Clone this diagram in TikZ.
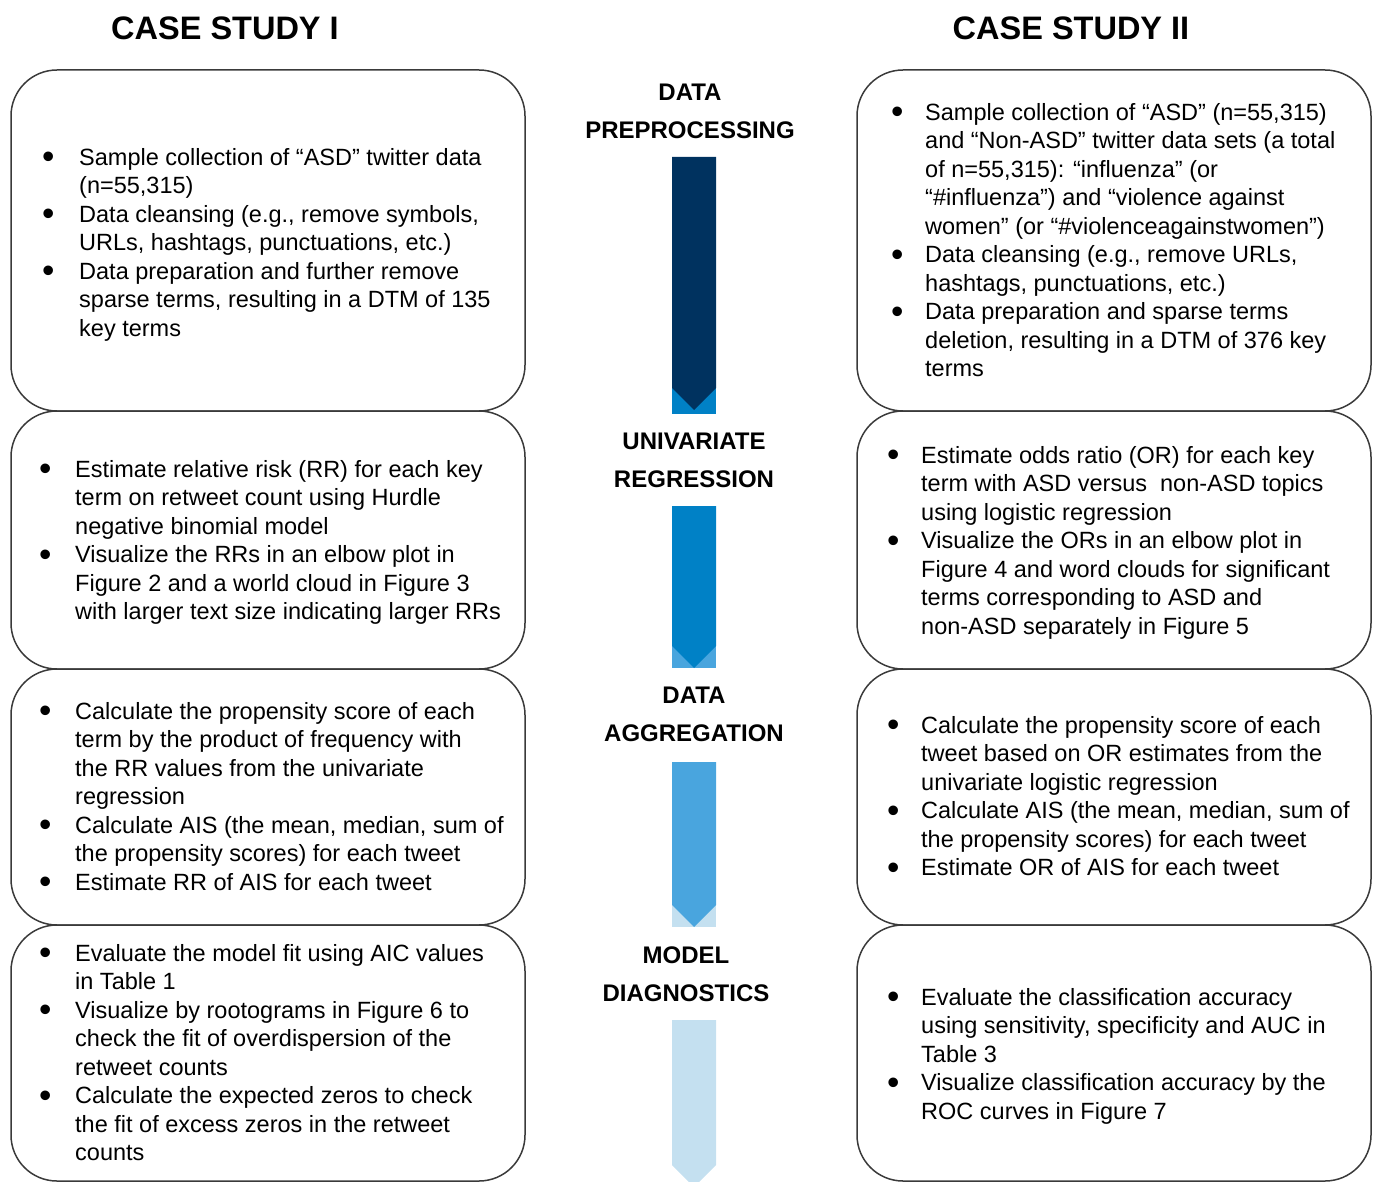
\documentclass[tikz,border=0pt]{standalone}
\usepackage{fontspec}
\setmainfont{Liberation Sans}
\newlength\hangind
\newcommand\Bu{\strut\makebox[\hangind][l]{\hspace{-2pt}\raisebox{-3.6pt}{\scalebox{1.5}{\textbullet}}}}
\newcommand\Co{\hspace*{\hangind}}
\definecolor{cA}{HTML}{00325F}
\definecolor{cB}{HTML}{0081C6}
\definecolor{cC}{HTML}{49A5DE}
\definecolor{cD}{HTML}{C4E0F0}
\definecolor{edge}{HTML}{3A3A3A}
\begin{document}
\begin{tikzpicture}[x=1pt,y=-1pt,
  casebox/.style={draw=edge,line width=1.5pt,rounded corners=46pt},
  body/.style={anchor=north west,inner sep=0pt,align=left,yshift=19.95pt,
    font=\fontsize{23.5}{28.5}\selectfont},
  hang/.code={\setlength\hangind{#1}},
  title/.style={inner sep=0pt,font=\fontsize{32.5}{38}\selectfont\bfseries},
  stage/.style={inner sep=0pt,align=center,font=\fontsize{24}{38}\selectfont\bfseries}]
\useasboundingbox (0,0) rectangle (1375,1182);
% titles
\node[title] (t1) at (225,28) {CASE STUDY I};
\node[title] (t2) at (1071,28) {CASE STUDY II};
% boxes
\foreach \ya/\yb [count=\i] in {70/411,411/669,669/925,925/1181}{
  \draw[casebox] (11,\ya) rectangle (525,\yb);
  \draw[casebox] (857,\ya) rectangle (1371,\yb);
}
% arrows
\fill[cB] (672,388) rectangle (716,414);
\fill[cA] (672,157) -- (716,157) -- (716,388) -- (694,410) -- (672,388) -- cycle;
\fill[cC] (672,646) rectangle (716,668);
\fill[cB] (672,506) -- (716,506) -- (716,646) -- (694,668) -- (672,646) -- cycle;
\fill[cD] (672,905) rectangle (716,927);
\fill[cC] (672,762) -- (716,762) -- (716,905) -- (694,927) -- (672,905) -- cycle;
\fill[cD] (672,1020) -- (716,1020) -- (716,1165) -- (694,1187) -- (672,1165) -- cycle;
% stage labels
\node[stage] (s1) at (690,111) {DATA\\PREPROCESSING};
\node[stage] (s2) at (694,460) {UNIVARIATE\\REGRESSION};
\node[stage] (s3) at (694,714) {DATA\\AGGREGATION};
\node[stage] (s4) at (686,974) {MODEL\\DIAGNOSTICS};
% left texts
\node[body,hang=35pt] (l1) at (44,165) {\Bu Sample collection of “ASD” twitter data\\
\Co (n=55,315)\\
\Bu Data cleansing (e.g., remove symbols,\\
\Co URLs, hashtags, punctuations, etc.)\\
\Bu Data preparation and further remove\\
\Co sparse terms, resulting in a DTM of 135\\
\Co key terms};
\node[body,hang=34pt] (l2) at (41,477) {\Bu Estimate relative risk (RR) for each key\\
\Co term on retweet count using Hurdle\\
\Co negative binomial model\\
\Bu Visualize the RRs in an elbow plot in\\
\Co Figure 2 and a world cloud in Figure 3\\
\Co with larger text size indicating larger RRs};
\node[body,hang=34pt] (l3) at (41,719) {\Bu Calculate the propensity score of each\\
\Co term by the product of frequency with\\
\Co the RR values from the univariate\\
\Co regression\\
\Bu Calculate AIS (the mean, median, sum of\\
\Co the propensity scores) for each tweet\\
\Bu Estimate RR of AIS for each tweet};
\node[body,hang=34pt] (l4) at (41,961) {\Bu Evaluate the model fit using AIC values\\
\Co in Table 1\\
\Bu Visualize by rootograms in Figure 6 to\\
\Co check the fit of overdispersion of the\\
\Co retweet counts\\
\Bu Calculate the expected zeros to check\\
\Co the fit of excess zeros in the retweet\\
\Co counts};
% right texts
\node[body,hang=32pt] (r1) at (893,120) {\Bu Sample collection of “ASD” (n=55,315)\\
\Co and “Non-ASD” twitter data sets (a total\\
\Co of n=55,315): “influenza” (or\\
\Co “\#influenza”) and “violence against\\
\Co women” (or “\#violenceagainstwomen”)\\
\Bu Data cleansing (e.g., remove URLs,\\
\Co hashtags, punctuations, etc.)\\
\Bu Data preparation and sparse terms\\
\Co deletion, resulting in a DTM of 376 key\\
\Co terms};
\node[body,hang=32pt] (r2) at (889,463) {\Bu Estimate odds ratio (OR) for each key\\
\Co term with ASD versus\ \ non-ASD topics\\
\Co using logistic regression\\
\Bu Visualize the ORs in an elbow plot in\\
\Co Figure 4 and word clouds for significant\\
\Co terms corresponding to ASD and\\
\Co non-ASD separately in Figure 5};
\node[body,hang=32pt] (r3) at (889,733) {\Bu Calculate the propensity score of each\\
\Co tweet based on OR estimates from the\\
\Co univariate logistic regression\\
\Bu Calculate AIS (the mean, median, sum of\\
\Co the propensity scores) for each tweet\\
\Bu Estimate OR of AIS for each tweet};
\node[body,hang=32pt] (r4) at (889,1005) {\Bu Evaluate the classification accuracy\\
\Co using sensitivity, specificity and AUC in\\
\Co Table 3\\
\Bu Visualize classification accuracy by the\\
\Co ROC curves in Figure 7};
\end{tikzpicture}
\end{document}
